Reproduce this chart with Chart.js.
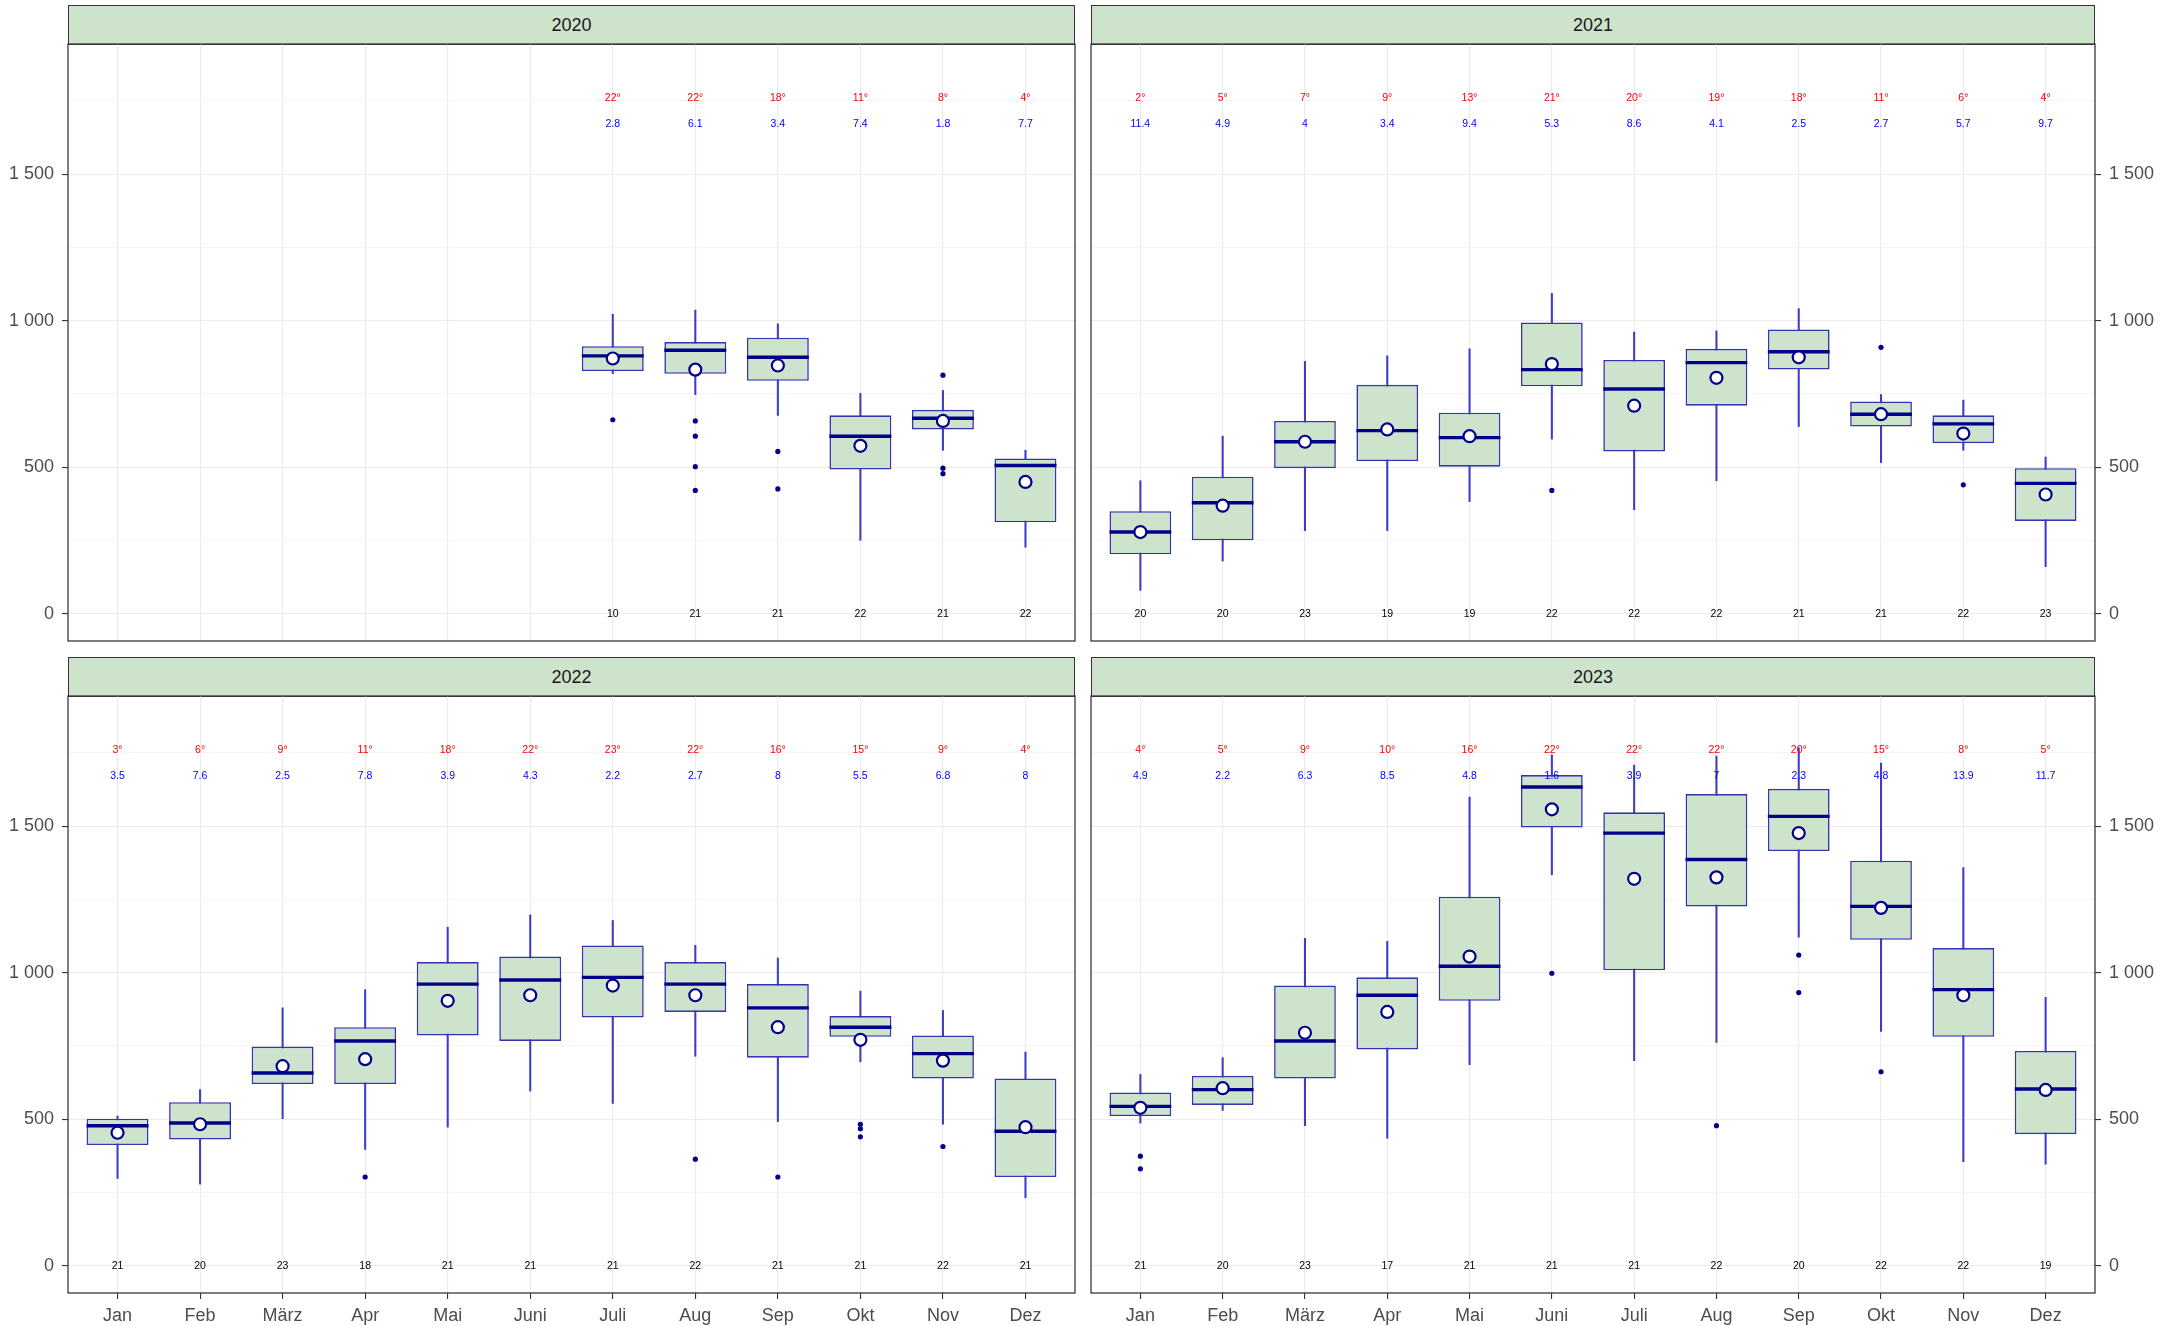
<!DOCTYPE html>
<html>
<head>
<meta charset="utf-8">
<script src="https://cdn.jsdelivr.net/npm/chart.js@4.4.1/dist/chart.umd.min.js"></script>
<style>
  body { margin: 0; background: #fff; width: 2173px; height: 1326px; position: relative; overflow: hidden;
         font-family: "Liberation Sans", Arial, sans-serif; }
  .strip { position: absolute; box-sizing: border-box; border: 1.3px solid #333; background: #cde3cc;
           color: #1a1a1a; font-size: 18px; display: flex; align-items: center; justify-content: center; }
  canvas { position: absolute; }
</style>
</head>
<body>
<script>
// Monate und Jahre
var months = ['Jan', 'Feb', 'März', 'Apr', 'Mai', 'Juni', 'Juli', 'Aug', 'Sep', 'Okt', 'Nov', 'Dez'];
var years = ['2020', '2021', '2022', '2023'];

// y-Achse
var yTickValues = [0, 500, 1000, 1500];
var yTickLabels = ['0', '500', '1 000', '1 500'];
var yMinorValues = [250, 750, 1250, 1750];

// Boxplot-Werte, eine Zeile pro Jahr
var N = null;
var whiskerLow = [
  [N, N, N, N, N, N, 819, 748, 677, 251, 558, 227],
  [80, 180, 284, 284, 383, 596, 355, 454, 639, 516, 558, 161],
  [298, 279, 502, 397, 473, 596, 554, 715, 492, 696, 483, 232],
  [487, 530, 478, 435, 686, 1334, 700, 762, 1121, 800, 355, 347]
];
var boxQ1 = [
  [N, N, N, N, N, N, 828, 819, 795, 492, 629, 312],
  [203, 251, 497, 521, 502, 776, 554, 710, 833, 639, 582, 317],
  [412, 431, 620, 620, 786, 767, 847, 866, 710, 781, 639, 303],
  [511, 549, 639, 738, 904, 1495, 1008, 1226, 1415, 1112, 781, 449]
];
var medians = [
  [N, N, N, N, N, N, 880, 899, 875, 606, 667, 506],
  [279, 379, 587, 625, 601, 833, 767, 857, 894, 681, 648, 445],
  [478, 487, 658, 767, 961, 975, 984, 961, 880, 814, 724, 459],
  [544, 601, 767, 923, 1022, 1633, 1476, 1386, 1533, 1226, 942, 603]
];
var boxQ3 = [
  [N, N, N, N, N, N, 913, 927, 942, 677, 696, 530],
  [350, 468, 658, 781, 686, 994, 866, 904, 970, 724, 677, 497],
  [502, 558, 748, 814, 1036, 1055, 1093, 1036, 961, 852, 786, 639],
  [591, 648, 956, 984, 1259, 1674, 1547, 1609, 1627, 1382, 1084, 733]
];
var whiskerHigh = [
  [N, N, N, N, N, N, 1022, 1036, 989, 752, 762, 558],
  [454, 606, 861, 880, 904, 1093, 961, 965, 1041, 748, 729, 535],
  [511, 601, 880, 942, 1155, 1197, 1178, 1093, 1050, 937, 871, 729],
  [653, 710, 1117, 1107, 1599, 1743, 1708, 1739, 1767, 1715, 1358, 916]
];
var means = [
  [N, N, N, N, N, N, 871, 833, 847, 573, 658, 450],
  [279, 369, 587, 629, 606, 852, 710, 805, 875, 681, 615, 407],
  [454, 483, 681, 705, 904, 923, 956, 923, 814, 771, 700, 473],
  [539, 606, 795, 866, 1055, 1557, 1320, 1325, 1476, 1221, 923, 600]
];
var outliers = [
  [[], [], [], [], [], [], [662], [658, 606, 502, 421], [554, 426], [], [814, 497, 478], []],
  [[], [], [], [], [], [421], [], [], [], [909], [440], []],
  [[], [], [], [303], [], [], [], [364], [303], [483, 468, 440], [407], []],
  [[374, 331], [], [], [], [], [998], [], [478], [1060, 932], [662], [], []]
];

// Beschriftungen oben (Temperatur, zweiter Wert) und unten (Anzahl)
var temps = [
  [N, N, N, N, N, N, 22, 22, 18, 11, 8, 4],
  [2, 5, 7, 9, 13, 21, 20, 19, 18, 11, 6, 4],
  [3, 6, 9, 11, 18, 22, 23, 22, 16, 15, 9, 4],
  [4, 5, 9, 10, 16, 22, 22, 22, 20, 15, 8, 5]
];
var blueVals = [
  [N, N, N, N, N, N, '2.8', '6.1', '3.4', '7.4', '1.8', '7.7'],
  ['11.4', '4.9', '4', '3.4', '9.4', '5.3', '8.6', '4.1', '2.5', '2.7', '5.7', '9.7'],
  ['3.5', '7.6', '2.5', '7.8', '3.9', '4.3', '2.2', '2.7', '8', '5.5', '6.8', '8'],
  ['4.9', '2.2', '6.3', '8.5', '4.8', '1.6', '3.9', '7', '2.3', '4.8', '13.9', '11.7']
];
var counts = [
  [N, N, N, N, N, N, 10, 21, 21, 22, 21, 22],
  [20, 20, 23, 19, 19, 22, 22, 22, 21, 21, 22, 23],
  [21, 20, 23, 18, 21, 21, 21, 22, 21, 21, 22, 21],
  [21, 20, 23, 17, 21, 21, 21, 22, 20, 22, 22, 19]
];
var tempLabelY = 1760;
var blueLabelY = 1670;
var countLabelY = 0;

// Lage der vier Felder (Plotbereich in Pixeln)
var panels = [
  { year: 0, l: 68, t: 44, r: 1075, b: 641, side: 'left', xlabels: false },
  { year: 1, l: 1091, t: 44, r: 2095, b: 641, side: 'right', xlabels: false },
  { year: 2, l: 68, t: 696, r: 1075, b: 1293, side: 'left', xlabels: true },
  { year: 3, l: 1091, t: 696, r: 2095, b: 1293, side: 'right', xlabels: true }
];

var navy = '#00008b';
var boxBlue = '#3434b4';
var whiskerBlue = '#3c3cc8';
var fillGreen = '#cde3cc';
var fontFam = '"Liberation Sans", Arial, sans-serif';

// Plugin: Rahmen um den Plotbereich
var framePlugin = {
  id: 'frame',
  afterDraw: function(chart) {
    var a = chart.chartArea, ctx = chart.ctx;
    ctx.save();
    ctx.strokeStyle = '#3a3a3a';
    ctx.lineWidth = 1.3;
    ctx.strokeRect(a.left, a.top, a.right - a.left, a.bottom - a.top);
    ctx.restore();
  }
};

// Plugin: Texte pro Monat
var textPlugin = {
  id: 'monthTexts',
  afterDatasetsDraw: function(chart, args, opts) {
    var yi = opts.year, ctx = chart.ctx, x = chart.scales.x, y = chart.scales.y;
    ctx.save();
    ctx.font = '10.5px ' + fontFam;
    ctx.textAlign = 'center';
    ctx.textBaseline = 'middle';
    for (var i = 0; i < 12; i++) {
      var px = x.getPixelForValue(i);
      if (temps[yi][i] != null) {
        ctx.fillStyle = '#ff0000';
        ctx.fillText(temps[yi][i] + '°', px, y.getPixelForValue(tempLabelY));
      }
      if (blueVals[yi][i] != null) {
        ctx.fillStyle = '#0000ff';
        ctx.fillText(blueVals[yi][i], px, y.getPixelForValue(blueLabelY));
      }
      if (counts[yi][i] != null) {
        ctx.fillStyle = '#000';
        ctx.fillText(String(counts[yi][i]), px, y.getPixelForValue(countLabelY));
      }
    }
    ctx.restore();
  }
};

function noPadding(s) {
  s.paddingTop = 0;
  s.paddingBottom = 0;
  s.paddingLeft = 0;
  s.paddingRight = 0;
}

function makePanel(p) {
  var yi = p.year;

  // Streifen mit Jahreszahl
  var strip = document.createElement('div');
  strip.className = 'strip';
  strip.style.left = p.l + 'px';
  strip.style.top = (p.t - 39) + 'px';
  strip.style.width = (p.r - p.l) + 'px';
  strip.style.height = '40px';
  strip.textContent = years[yi];
  document.body.appendChild(strip);

  // Canvas
  var pad = 3;
  var cLeft = p.side === 'left' ? 0 : p.l - pad;
  var cRight = p.side === 'left' ? p.r + pad : 2173;
  var cTop = p.t - pad;
  var cBottom = p.xlabels ? 1326 : p.b + pad;
  var yAxisW = p.side === 'left' ? p.l : 2173 - p.r;
  var xAxisH = p.xlabels ? 1326 - p.b : 0;

  var canvas = document.createElement('canvas');
  canvas.width = cRight - cLeft;
  canvas.height = cBottom - cTop;
  canvas.style.left = cLeft + 'px';
  canvas.style.top = cTop + 'px';
  document.body.appendChild(canvas);

  var whiskers = [], boxes = [], meds = [], mns = [], outs = [];
  for (var i = 0; i < 12; i++) {
    if (medians[yi][i] == null) continue;
    whiskers.push({ x: i, y: [whiskerLow[yi][i], whiskerHigh[yi][i]] });
    boxes.push({ x: i, y: [boxQ1[yi][i], boxQ3[yi][i]] });
    meds.push({ x: i, y: medians[yi][i] });
    mns.push({ x: i, y: means[yi][i] });
    outliers[yi][i].forEach(function(v) { outs.push({ x: i, y: v }); });
  }

  // halbe Boxbreite in Pixeln, aus der x-Skala
  var halfBox = function(c) {
    var s = c.chart.scales.x;
    if (!s) return 30;
    return Math.abs(s.getPixelForValue(1) - s.getPixelForValue(0)) * 0.75 / 2;
  };

  new Chart(canvas.getContext('2d'), {
    type: 'bar',
    data: {
      datasets: [
        { type: 'line', data: outs, showLine: false, order: 1,
          pointRadius: 2.6, pointBackgroundColor: navy, pointBorderWidth: 0 },
        { type: 'line', data: mns, showLine: false, order: 2,
          pointRadius: 6, pointBackgroundColor: '#ffffff', pointBorderColor: navy, pointBorderWidth: 2.2 },
        { type: 'line', data: meds, showLine: false, order: 3,
          pointStyle: 'line', pointRadius: halfBox, pointBorderColor: navy, pointBorderWidth: 3.4 },
        { data: boxes, grouped: false, order: 4,
          backgroundColor: fillGreen, borderColor: boxBlue, borderWidth: 1.6, borderSkipped: false,
          barPercentage: 0.75, categoryPercentage: 1.0 },
        { data: whiskers, grouped: false, order: 5,
          backgroundColor: whiskerBlue, borderWidth: 0, barThickness: 1.4 }
      ]
    },
    options: {
      responsive: false,
      animation: false,
      events: [],
      layout: {
        autoPadding: false,
        padding: {
          left: p.side === 'left' ? 0 : pad,
          right: p.side === 'left' ? pad : 0,
          top: pad,
          bottom: p.xlabels ? 0 : pad
        }
      },
      plugins: {
        legend: { display: false },
        tooltip: { enabled: false },
        monthTexts: { year: yi }
      },
      scales: {
        x: {
          type: 'linear',
          min: -0.6,
          max: 11.6,
          offset: false,
          afterBuildTicks: function(s) { s.ticks = months.map(function(m, i) { return { value: i }; }); },
          afterFit: function(s) { s.height = xAxisH; noPadding(s); },
          ticks: {
            display: p.xlabels,
            autoSkip: false,
            maxRotation: 0,
            padding: 6,
            color: '#4d4d4d',
            font: { family: fontFam, size: 18 },
            callback: function(v) { return months[v]; }
          },
          grid: {
            offset: false,
            color: '#ebebeb',
            lineWidth: 1.1,
            drawTicks: p.xlabels,
            tickLength: 6,
            tickColor: '#333'
          },
          border: { display: false }
        },
        y: {
          type: 'linear',
          position: p.side,
          min: -92.6,
          max: 1943.6,
          afterBuildTicks: function(s) {
            s.ticks = yTickValues.concat(yMinorValues).sort(function(a, b) { return a - b; })
              .map(function(v) { return { value: v }; });
          },
          afterFit: function(s) { s.width = yAxisW; noPadding(s); },
          ticks: {
            padding: 8,
            crossAlign: 'near',
            color: '#4d4d4d',
            font: { family: fontFam, size: 18 },
            callback: function(v) {
              var k = yTickValues.indexOf(v);
              return k >= 0 ? yTickLabels[k] : '';
            }
          },
          grid: {
            color: function(c) { return c.tick && yTickValues.indexOf(c.tick.value) >= 0 ? '#ebebeb' : '#f2f2f2'; },
            lineWidth: function(c) { return c.tick && yTickValues.indexOf(c.tick.value) >= 0 ? 1.1 : 0.8; },
            tickLength: 6,
            tickColor: function(c) { return c.tick && yTickValues.indexOf(c.tick.value) >= 0 ? '#333' : 'rgba(0,0,0,0)'; }
          },
          border: { display: false }
        }
      }
    },
    plugins: [framePlugin, textPlugin]
  });
}

panels.forEach(makePanel);
</script>
</body>
</html>
